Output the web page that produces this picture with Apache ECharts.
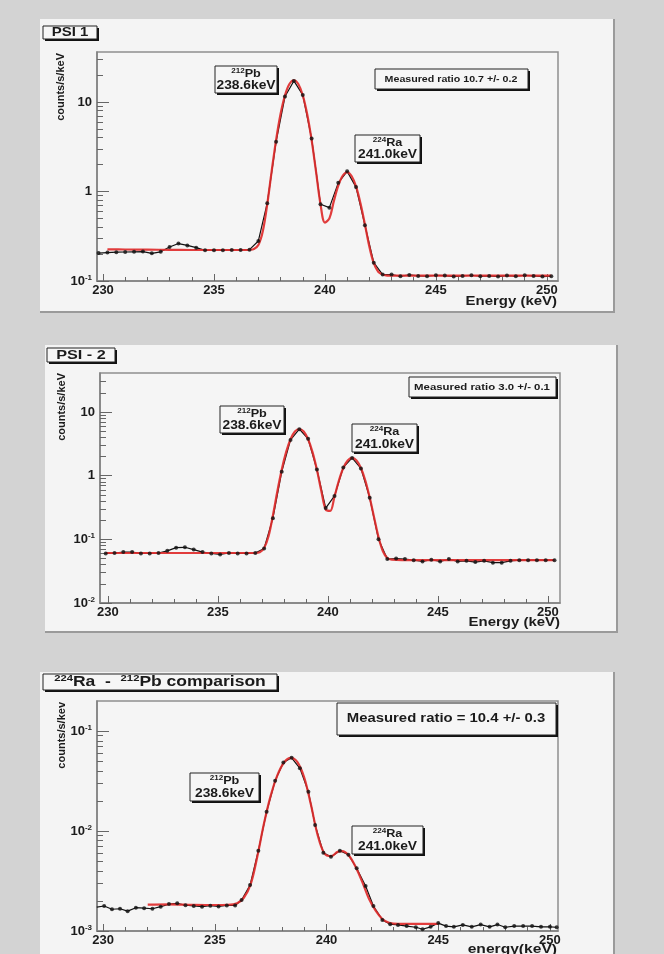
<!DOCTYPE html>
<html><head><meta charset="utf-8">
<script src="https://cdn.jsdelivr.net/npm/echarts@6/dist/echarts.min.js"></script>
<style>html,body{margin:0;padding:0;background:#d3d3d3}#c{width:664px;height:954px}</style>
</head><body><div id="c"></div>
<script>
// ---- spectrum PSI 1 ----
const psi1Energy = [229.8,230.2,230.6,231.0,231.4,231.8,232.2,232.6,233.0,233.4,233.8,234.2,234.6,235.0,235.4,235.8,236.2,236.6,237.0,237.4,237.8,238.2,238.6,239.0,239.4,239.8,240.2,240.6,241.0,241.4,241.8,242.2,242.6,243.0,243.4,243.8,244.2,244.6,245.0,245.4,245.8,246.2,246.6,247.0,247.4,247.8,248.2,248.6,249.0,249.4,249.8,250.2];
const psi1Counts = [0.205,0.208,0.210,0.211,0.212,0.213,0.204,0.212,0.240,0.262,0.250,0.236,0.220,0.221,0.221,0.222,0.222,0.224,0.28,0.74,3.6,11.5,17.2,12.0,3.9,0.72,0.66,1.25,1.68,1.12,0.42,0.16,0.118,0.118,0.113,0.117,0.114,0.113,0.116,0.115,0.112,0.114,0.116,0.113,0.114,0.112,0.115,0.113,0.116,0.114,0.112,0.113];
const psi1FitEnergy = [230.2,231,232,233,234,235,236,236.4,236.6,236.8,237.0,237.2,237.4,237.6,237.8,238.0,238.2,238.4,238.6,238.8,239.0,239.2,239.4,239.6,239.8,240.0,240.2,240.4,240.6,240.8,241.0,241.2,241.4,241.6,241.8,242.0,242.2,242.4,242.6,242.8,244,246,248,250.2];
const psi1Fit = [0.226,0.225,0.224,0.223,0.222,0.222,0.222,0.222,0.223,0.228,0.253,0.36,0.72,1.69,3.78,7.33,11.9,15.9,17.5,15.9,11.9,7.3,3.75,1.66,0.72,0.45,0.50,0.78,1.16,1.50,1.64,1.49,1.14,0.74,0.43,0.243,0.158,0.127,0.118,0.115,0.115,0.115,0.115,0.115];

// ---- spectrum PSI - 2 ----
const psi2Energy = [229.9,230.3,230.7,231.1,231.5,231.9,232.3,232.7,233.1,233.5,233.9,234.3,234.7,235.1,235.5,235.9,236.3,236.7,237.1,237.5,237.9,238.3,238.7,239.1,239.5,239.9,240.3,240.7,241.1,241.5,241.9,242.3,242.7,243.1,243.5,243.9,244.3,244.7,245.1,245.5,245.9,246.3,246.7,247.1,247.5,247.9,248.3,248.7,249.1,249.5,249.9,250.3];
const psi2Counts = [0.060,0.061,0.063,0.063,0.060,0.060,0.061,0.066,0.074,0.075,0.069,0.063,0.060,0.058,0.061,0.060,0.060,0.061,0.072,0.215,1.15,3.65,5.37,3.80,1.25,0.31,0.48,1.35,1.90,1.30,0.45,0.10,0.049,0.050,0.049,0.047,0.045,0.048,0.045,0.049,0.045,0.046,0.044,0.046,0.043,0.043,0.046,0.047,0.047,0.047,0.047,0.047];
const psi2FitEnergy = [229.9,232,234,236,236.7,236.9,237.1,237.3,237.5,237.7,237.9,238.1,238.3,238.5,238.7,238.9,239.1,239.3,239.5,239.7,239.9,240.1,240.3,240.5,240.7,240.9,241.1,241.3,241.5,241.7,241.9,242.1,242.3,242.5,242.7,242.9,244,246,248,250.3];
const psi2Fit = [0.061,0.061,0.061,0.061,0.061,0.0625,0.073,0.112,0.238,0.563,1.24,2.34,3.73,4.93,5.41,4.93,3.73,2.34,1.24,0.576,0.294,0.279,0.47,0.84,1.32,1.73,1.90,1.73,1.32,0.84,0.454,0.221,0.109,0.065,0.051,0.048,0.047,0.047,0.047,0.047];

// ---- 224Ra - 212Pb comparison ----
const cmpEnergy = [229.72,230.05,230.4,230.76,231.1,231.47,231.84,232.21,232.58,232.95,233.32,233.69,234.06,234.43,234.8,235.17,235.54,235.91,236.2,236.58,236.95,237.32,237.7,238.07,238.44,238.81,239.19,239.49,239.86,240.2,240.6,240.98,241.35,241.75,242.1,242.5,242.85,243.2,243.59,244.0,244.3,244.66,245.0,245.35,245.7,246.1,246.5,246.9,247.3,247.65,248.0,248.4,248.8,249.2,249.6,250.0,250.3];
const cmpCounts = [0.00173,0.00178,0.00165,0.00167,0.00158,0.00171,0.00169,0.00167,0.00175,0.00186,0.00189,0.00181,0.00178,0.00175,0.00179,0.00176,0.00180,0.00180,0.00204,0.00288,0.00635,0.0156,0.0318,0.0486,0.054,0.0424,0.0247,0.0115,0.00607,0.00553,0.00635,0.0058,0.00424,0.00282,0.00178,0.00129,0.00117,0.00115,0.00112,0.00109,0.00104,0.00110,0.00120,0.00112,0.00110,0.00115,0.00110,0.00116,0.00110,0.00116,0.00109,0.00112,0.00112,0.00112,0.00110,0.00110,0.00109];
const cmpFitEnergy = [232.0,233.0,234.0,235.0,235.6,236.0,236.3,236.6,236.9,237.2,237.5,237.8,238.1,238.4,238.7,239.0,239.3,239.6,239.9,240.2,240.5,240.7,241.0,241.3,241.6,241.9,242.2,242.5,242.8,243.2,244.0,245.0];
const cmpFit = [0.00184,0.00185,0.00183,0.00182,0.00183,0.00190,0.00215,0.0029,0.0055,0.0118,0.0225,0.036,0.0485,0.054,0.049,0.0345,0.0185,0.0092,0.0060,0.0056,0.0062,0.0063,0.0057,0.0044,0.0031,0.0021,0.0016,0.00132,0.00121,0.00118,0.00118,0.00118];

// ---- axis ticks ----
const majorEnergyTicks = [230,235,240,245,250];
const minorEnergyTicks = [231,232,233,234,236,237,238,239,241,242,243,244,246,247,248,249];
const psi1Decades = [0.1,1,10];
const psi2Decades = [0.01,0.1,1,10];
const cmpDecades = [0.001,0.01,0.1];
const psi1Minor = [0.2,0.3,0.4,0.5,0.6,0.7,0.8,0.9,2,3,4,5,6,7,8,9,20,30];
const psi2Minor = [0.02,0.03,0.04,0.05,0.06,0.07,0.08,0.09,0.2,0.3,0.4,0.5,0.6,0.7,0.8,0.9,2,3,4,5,6,7,8,9,20,30];
const cmpMinor = [0.002,0.003,0.004,0.005,0.006,0.007,0.008,0.009,0.02,0.03,0.04,0.05,0.06,0.07,0.08,0.09];

const FONT = '"Liberation Sans", Arial, Helvetica, sans-serif';
const INK = '#1b1b1b';
const pair = (xs, ys) => xs.map((x, i) => [x, ys[i]]);

const panels = [
  { grid: {left: 97, top: 52, width: 461, height: 229}, xr: [229.73, 250.5], yr: [0.1, 36.2], dec: psi1Decades, minor: psi1Minor,
    data: pair(psi1Energy, psi1Counts), fit: pair(psi1FitEnergy, psi1Fit) },
  { grid: {left: 100, top: 373, width: 460, height: 230}, xr: [229.64, 250.55], yr: [0.01, 41], dec: psi2Decades, minor: psi2Minor,
    data: pair(psi2Energy, psi2Counts), fit: pair(psi2FitEnergy, psi2Fit) },
  { grid: {left: 97, top: 701, width: 461, height: 230}, xr: [229.73, 250.36], yr: [0.001, 0.2], dec: cmpDecades, minor: cmpMinor,
    data: pair(cmpEnergy, cmpCounts), fit: pair(cmpFitEnergy, cmpFit) }
];

function decadeLabel(v) {
  const e = Math.round(Math.log10(v));
  if (e === 0) return '{b|1}';
  if (e === 1) return '{b|10}';
  return '{b|10}{s|' + e + '}';
}
const labelRich = {
  b: {fontFamily: FONT, fontWeight: 'bold', fontSize: 13, color: INK, lineHeight: 15},
  s: {fontFamily: FONT, fontWeight: 'bold', fontSize: 8, color: INK, lineHeight: 9, verticalAlign: 'top'}
};

const grids = [], xAxes = [], yAxes = [], series = [];
panels.forEach((p, i) => {
  grids.push(Object.assign({show: true, backgroundColor: '#f5f5f5', borderColor: '#8e8e8e', borderWidth: 1.5}, p.grid));
  xAxes.push({gridIndex: i, type: 'value', min: p.xr[0], max: p.xr[1], position: 'bottom',
    axisLine: {show: true, lineStyle: {color: '#808080', width: 1.5}},
    axisTick: {show: true, inside: true, length: 7, customValues: majorEnergyTicks, lineStyle: {color: '#666'}},
    axisLabel: {customValues: majorEnergyTicks, fontFamily: FONT, fontWeight: 'bold', fontSize: 13, color: INK, margin: 3},
    splitLine: {show: false}});
  xAxes.push({gridIndex: i, type: 'value', min: p.xr[0], max: p.xr[1], position: 'bottom',
    axisLine: {show: false}, axisLabel: {show: false}, splitLine: {show: false},
    axisTick: {show: true, inside: true, length: 4, customValues: minorEnergyTicks, lineStyle: {color: '#666'}}});
  yAxes.push({gridIndex: i, type: 'log', logBase: 10, min: p.yr[0], max: p.yr[1], position: 'left',
    axisLine: {show: true, lineStyle: {color: '#808080', width: 1.5}},
    axisTick: {show: true, inside: true, length: 12, customValues: p.dec, lineStyle: {color: '#666'}},
    axisLabel: {customValues: p.dec, formatter: decadeLabel, rich: labelRich, margin: 5},
    splitLine: {show: false}});
  yAxes.push({gridIndex: i, type: 'log', logBase: 10, min: p.yr[0], max: p.yr[1], position: 'left',
    axisLine: {show: false}, axisLabel: {show: false}, splitLine: {show: false},
    axisTick: {show: true, inside: true, length: 6, customValues: p.minor, lineStyle: {color: '#666'}}});
  const xi = i * 2, yi = i * 2;
  series.push({type: 'line', xAxisIndex: xi, yAxisIndex: yi, data: p.data, showSymbol: false, silent: true,
    lineStyle: {color: '#111', width: 1.2}, z: 2});
  series.push({type: 'line', xAxisIndex: xi, yAxisIndex: yi, data: p.fit, showSymbol: false, silent: true, smooth: 0.35,
    lineStyle: {color: '#de2b2b', width: 2.2, opacity: 0.92}, z: 3});
  series.push({type: 'scatter', xAxisIndex: xi, yAxisIndex: yi, data: p.data, symbol: 'circle', symbolSize: 4, silent: true,
    itemStyle: {color: '#111'}, z: 4});
});

// ---- pads, boxes and texts ----
const g = [];
function pad(x, y, w, h) {
  g.push({type: 'rect', z: -20, shape: {x, y, width: w, height: h}, style: {fill: '#f4f4f4'}});
  g.push({type: 'polyline', z: -19, shape: {points: [[x + w, y], [x + w, y + h], [x, y + h]]}, style: {fill: null, stroke: '#9a9a9a', lineWidth: 2}});
}
function box(x, y, w, h, sh) {
  g.push({type: 'rect', z: 100, shape: {x: x + sh, y: y + sh, width: w, height: h}, style: {fill: '#111'}});
  g.push({type: 'rect', z: 101, shape: {x, y, width: w, height: h}, style: {fill: '#f6f6f6', stroke: '#222', lineWidth: 1}});
}
const rich = (size) => ({
  b: {fontFamily: FONT, fontWeight: 'bold', fontSize: size, fill: INK, lineHeight: size + 2},
  s: {fontFamily: FONT, fontWeight: 'bold', fontSize: Math.round(size * 0.62), fill: INK, lineHeight: Math.round(size * 0.7), verticalAlign: 'top'}
});
function text(x, y, str, size, sx) {
  g.push({type: 'text', z: 102, x, y, scaleX: sx || 1, style: {text: str, rich: rich(size), align: 'center', verticalAlign: 'middle'}});
}
function plain(x, y, str, size, sx, align, valign) {
  g.push({type: 'text', z: 102, x, y, scaleX: sx || 1,
    style: {text: str, fontFamily: FONT, fontWeight: 'bold', fontSize: size, fill: INK, align: align || 'center', verticalAlign: valign || 'middle'}});
}
function peakLabel(x, y, w, h, mass, elem, energy) {
  box(x, y, w, h, 2);
  text(x + w / 2, y + h * 0.3, '{s|' + mass + '}{b|' + elem + '}', 11, 1.15);
  text(x + w / 2, y + h * 0.74, '{b|' + energy + '}', 12, 1.15);
}
function yTitle(x, y, str) {
  g.push({type: 'text', z: 102, x, y, rotation: Math.PI / 2,
    style: {text: str, fontFamily: FONT, fontWeight: 'bold', fontSize: 11, fill: INK, align: 'right', verticalAlign: 'middle'}});
}

// PSI 1
pad(40, 19, 574, 293);
box(43, 26, 54, 13, 2); text(70, 32.5, '{b|PSI 1}', 13, 1.15);
peakLabel(215, 66, 62, 27, '212', 'Pb', '238.6keV');
peakLabel(355, 135, 65, 27, '224', 'Ra', '241.0keV');
box(375, 69, 153, 20, 2);
plain(451, 79, 'Measured ratio 10.7 +/- 0.2', 9.5, 1.12);
yTitle(61, 53, 'counts/s/keV');
plain(557, 295, 'Energy (keV)', 13, 1.15, 'right', 'top');

// PSI - 2
pad(45, 345, 572, 287);
box(47, 348, 68, 14, 2); text(81, 355, '{b|PSI - 2}', 13, 1.25);
peakLabel(220, 406, 64, 27, '212', 'Pb', '238.6keV');
peakLabel(352, 424, 65, 28, '224', 'Ra', '241.0keV');
box(409, 377, 147, 20, 2);
plain(482, 387, 'Measured ratio 3.0 +/- 0.1', 9.5, 1.2);
yTitle(62, 373, 'counts/s/keV');
plain(560, 616, 'Energy (keV)', 13, 1.15, 'right', 'top');

// comparison
pad(40, 672, 574, 300);
box(43, 674, 234, 16, 2); text(160, 682, '{s|224}{b|Ra  -  }{s|212}{b|Pb comparison}', 14, 1.25);
peakLabel(190, 773, 69, 28, '212', 'Pb', '238.6keV');
peakLabel(352, 826, 71, 28, '224', 'Ra', '241.0keV');
box(337, 703, 219, 32, 2);
plain(446, 719, 'Measured ratio = 10.4 +/- 0.3', 12.5, 1.19);
yTitle(62, 702, 'counts/s/kev');
plain(557, 943, 'energy(keV)', 13, 1.2, 'right', 'top');

const chart = echarts.init(document.getElementById('c'), null, {renderer: 'canvas'});
chart.setOption({
  backgroundColor: '#d3d3d3',
  animation: false,
  grid: grids, xAxis: xAxes, yAxis: yAxes, series: series,
  graphic: {elements: g}
});
</script></body></html>
